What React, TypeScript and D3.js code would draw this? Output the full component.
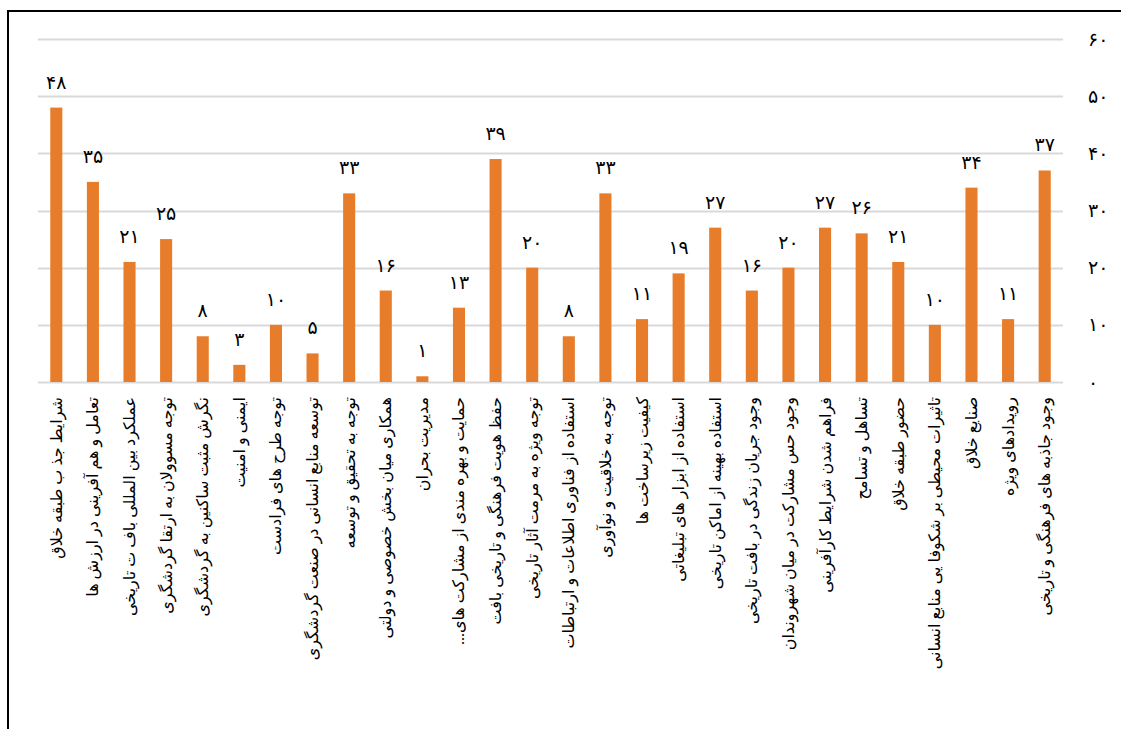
import React from "react";
import * as d3 from "d3";

const categories: string[] = [
  "شرایط جذ ب طبقه خلاق",
  "تعامل و هم آفرینی در ارزش ها",
  "عملکرد بین المللی باف ت تاریخی",
  "توجه مسوولان به ارتقا گردشگری",
  "نگرش مثبت ساکنین به گردشگری",
  "ایمنی و امنیت",
  "توجه طرح های فرادست",
  "توسعه منابع  انسانی در صنعت  گردشگری",
  "توجه به تحقیق و توسعه",
  "همکاری میان بخش خصوصی و دولتی",
  "مدیریت بحران",
  "حمایت و بهره مندی از مشارکت های...",
  "حفظ هویت فرهنگی و تاریخی بافت",
  "توجه ویژه به مرمت آثار تاریخی",
  "استفاده از فناوری اطلاعات و ارتباطات",
  "توجه به خلاقیت و نوآوری",
  "کیفیت زیرساخت ها",
  "استفاده از ابزار های تبلیغاتی",
  "استفاده بهینه از اماکن  تاریخی",
  "وجود جریان زندگی در بافت تاریخی",
  "وجود حس مشارکت در میان شهروندان",
  "فراهم شدن شرایط کارآفرینی",
  "تساهل و تسامح",
  "حضور طبقه خلاق",
  "تاثیرات محیطی بر شکوفا یی منابع  انسانی",
  "صنایع خلاق",
  "رویدادهای ویژه",
  "وجود جاذبه های فرهنگی و تاریخی",
];

const values: number[] = [
  48, 35, 21, 25, 8, 3, 10, 5, 33, 16, 1, 13, 39, 20, 8, 33, 11, 19, 27, 16,
  20, 27, 26, 21, 10, 34, 11, 37,
];

const yTicks: number[] = [0, 10, 20, 30, 40, 50, 60];

const toFa = (n: number) =>
  String(n).replace(/[0-9]/g, (d) => "۰۱۲۳۴۵۶۷۸۹"[Number(d)]);

export default function App() {
  const W = 1121;
  const H = 729;
  const x = d3
    .scaleBand<number>()
    .domain(d3.range(values.length))
    .range([38, 1063])
    .paddingInner(0.67)
    .paddingOuter(0.335);
  const y = d3.scaleLinear().domain([0, 60]).range([382, 39]);
  const font = "'Times New Roman', 'DejaVu Sans', serif";

  return (
    <svg
      width={W}
      height={H}
      style={{ position: "absolute", left: 0, top: 0, background: "#fff" }}
    >
      <rect x={0} y={0} width={W} height={H} fill="#fff" />
      {/* frame */}
      <line x1={8} y1={10} x2={8} y2={H} stroke="#000" strokeWidth={2} />
      <line x1={7} y1={11} x2={W} y2={11} stroke="#000" strokeWidth={2} />
      {/* gridlines */}
      {yTicks.map((t) => (
        <line
          key={t}
          x1={38}
          x2={1063}
          y1={Math.round(y(t)) + 0.5}
          y2={Math.round(y(t)) + 0.5}
          stroke="#d9d9d9"
          strokeWidth={2}
        />
      ))}
      {/* y tick labels */}
      {yTicks.map((t) => (
        <text
          key={"t" + t}
          x={1088}
          y={y(t)}
          dy="0.35em"
          fontFamily={font}
          fontSize={19}
          fill="#000"
          textAnchor="start"
        >
          {toFa(t)}
        </text>
      ))}
      {/* bars */}
      {values.map((v, i) => (
        <rect
          key={"b" + i}
          x={x(i)}
          y={y(v)}
          width={x.bandwidth()}
          height={y(0) - y(v)}
          fill="#e77d2a"
        />
      ))}
      {/* value labels */}
      {values.map((v, i) => (
        <text
          key={"v" + i}
          x={(x(i) as number) + x.bandwidth() / 2}
          y={y(v) - 19}
          fontFamily={font}
          fontSize={19}
          textAnchor="middle"
          fill="#000"
        >
          {toFa(v)}
        </text>
      ))}
      {/* category labels */}
      {categories.map((c, i) => {
        const cx = (x(i) as number) + x.bandwidth() / 2;
        const cy = 397;
        return (
          <text
            key={"c" + i}
            transform={`translate(${cx},${cy}) rotate(-90)`}
            fontFamily={font}
            fontSize={16}
            fill="#000"
            dominantBaseline="central"
            textAnchor="start"
            style={{ direction: "rtl" }}
          >
            {c}
          </text>
        );
      })}
    </svg>
  );
}
